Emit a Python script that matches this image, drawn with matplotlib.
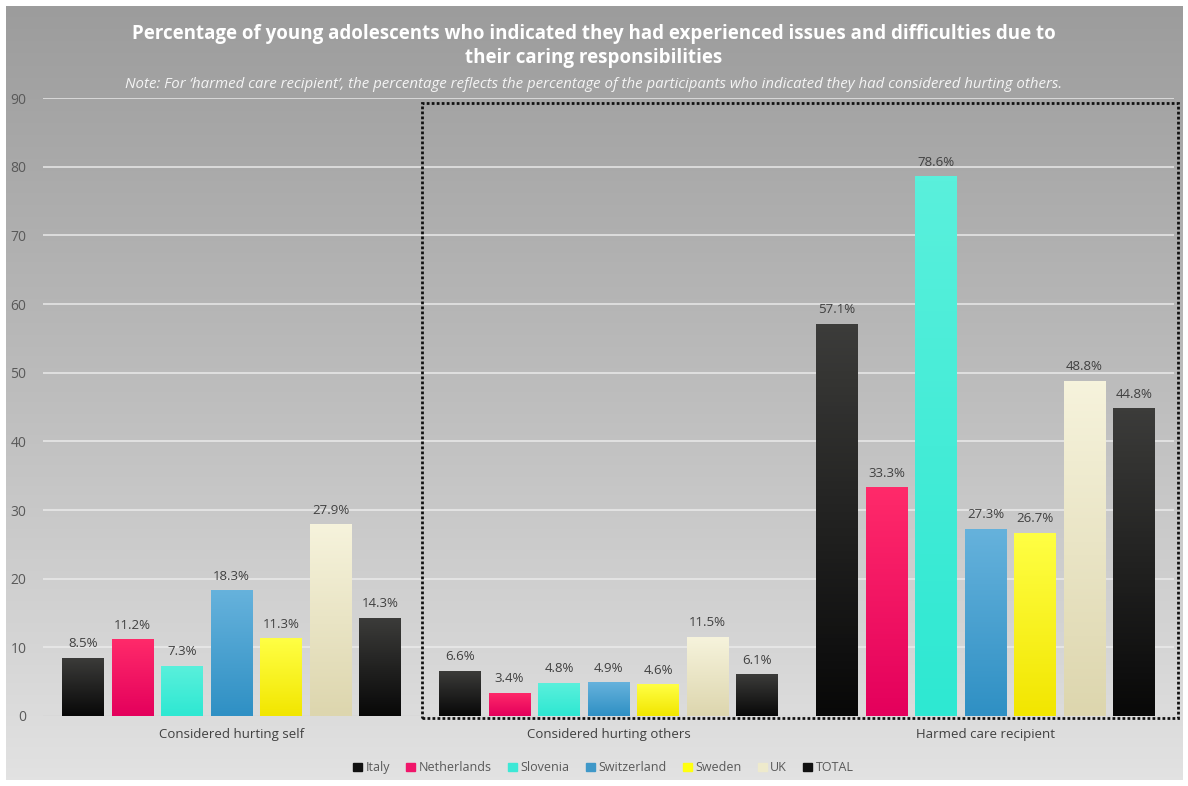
import matplotlib.pyplot as plt
import numpy as np
from matplotlib.patches import Rectangle

plt.rcParams['font.family'] = ['Open Sans', 'DejaVu Sans']

categories = ["Considered hurting self", "Considered hurting others", "Harmed care recipient"]
countries = ["Italy", "Netherlands", "Slovenia", "Switzerland", "Sweden", "UK", "TOTAL"]
italy = [8.5, 6.6, 57.1]
netherlands = [11.2, 3.4, 33.3]
slovenia = [7.3, 4.8, 78.6]
switzerland = [18.3, 4.9, 27.3]
sweden = [11.3, 4.6, 26.7]
uk = [27.9, 11.5, 48.8]
total = [14.3, 6.1, 44.8]
series = [italy, netherlands, slovenia, switzerland, sweden, uk, total]

# top colour, bottom colour for the gradient of each bar
grads = [("#3c3c3a", "#080808"), ("#ff2a6a", "#e4005c"), ("#5af0dc", "#2ee8d2"),
         ("#66b2dc", "#2f90c4"), ("#ffff44", "#f2e600"), ("#f6f3dc", "#ddd6ae"),
         ("#3c3c3a", "#080808")]
legend_cols = ["#111111", "#f0166a", "#3de8d6", "#3f98c8", "#ffff10", "#eeeacc", "#111111"]

fig = plt.figure(figsize=(11.88, 7.86), dpi=100)

# background gradient panel
bg = fig.add_axes([0.005, 0.008, 0.99, 0.985])
g = np.linspace(0, 1, 256).reshape(-1, 1)
bg.imshow(g, aspect="auto", cmap=plt.matplotlib.colors.LinearSegmentedColormap.from_list(
    "bg", ["#9c9c9c", "#bdbdbd", "#e2e2e2"]), extent=[0, 1, 0, 1], origin="upper")
bg.axis("off")

ax = fig.add_axes([0.0362, 0.0891, 0.952, 0.786])
ax.patch.set_alpha(0)
ax.set_xlim(-0.5, 2.5)
ax.set_ylim(0, 90)
ax.set_yticks(range(0, 91, 10))
ax.tick_params(axis="y", length=0, labelsize=10, labelcolor="#595959", pad=12)
ax.tick_params(axis="x", length=0, labelsize=9.5, labelcolor="#404040", pad=9)
for s in ax.spines.values():
    s.set_visible(False)
for v in range(10, 91, 10):
    ax.axhline(v, color="#ececec", lw=1.3, alpha=0.8, zorder=0)
ax.axhline(0, color="#d0d0d0", lw=1, zorder=0)

x = np.arange(len(categories))
step = 0.1313
width = 0.109
gimg = np.linspace(0, 1, 100).reshape(-1, 1)
for i, vals in enumerate(series):
    pos = x + (i - 3) * step
    bars = ax.bar(pos, vals, width, color=grads[i][1], zorder=2)
    cmap = plt.matplotlib.colors.LinearSegmentedColormap.from_list("c%d" % i, [grads[i][0], grads[i][1]])
    for b, v in zip(bars, vals):
        im = ax.imshow(gimg, cmap=cmap, aspect="auto", origin="upper",
                       extent=[b.get_x(), b.get_x() + b.get_width(), 0, v], zorder=3)
        im.set_clip_path(b)
        ax.text(b.get_x() + b.get_width() / 2, v + 1.1, "%.1f%%" % v, ha="center", va="bottom",
                fontsize=9.5, color="#404040", zorder=4)
ax.set_xticks(x)
ax.set_xticklabels(categories)
ax.set_xlim(-0.5, 2.5)
ax.set_ylim(0, 90)

# dotted box around the "others" groups
ax.add_patch(Rectangle((0.505, -0.3), 2.005, 89.6, fill=False, ls=(0, (1, 0.8)), lw=2,
                       edgecolor="#111111", clip_on=False, zorder=5))

fig.text(0.5, 0.97, "Percentage of young adolescents who indicated they had experienced issues and difficulties due to\ntheir caring responsibilities",
         ha="center", va="top", fontsize=13.5, fontweight="bold", color="white", linespacing=1.3)
fig.text(0.5, 0.883, "Note: For \u2018harmed care recipient\u2019, the percentage reflects the percentage of the participants who indicated they had considered hurting others.",
         ha="center", va="bottom", fontsize=10.8, style="italic", color="#f4f4f4")

handles = [Rectangle((0, 0), 1, 1, color=c) for c in legend_cols]
fig.legend(handles, countries, loc="center", bbox_to_anchor=(0.508, 0.023), ncol=7, frameon=False,
           fontsize=9, labelcolor="#595959", handlelength=0.7, handleheight=0.7,
           handletextpad=0.3, columnspacing=1.3)

fig.savefig("out.png", dpi=100)
